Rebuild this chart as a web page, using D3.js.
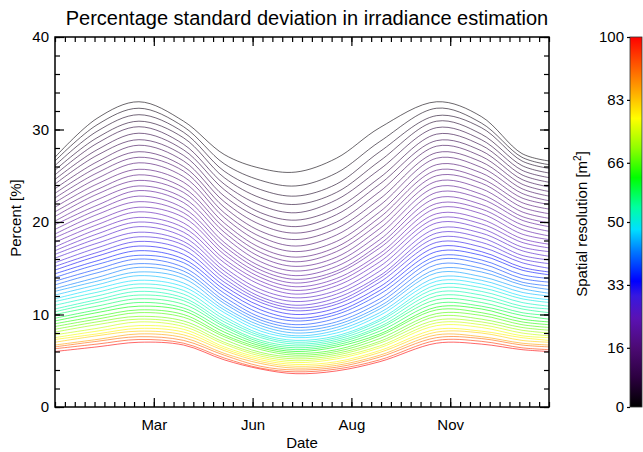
<!DOCTYPE html>
<html>
<head>
<meta charset="utf-8">
<script src="https://cdn.jsdelivr.net/npm/d3@7"></script>
<style>
  body { margin: 0; background: #fff; }
  text { font-family: "Liberation Sans", Arial, Helvetica, sans-serif; fill: #000; }
</style>
</head>
<body>
<svg id="chart" width="643" height="452"></svg>
<script>
// day of year at which each value column was read
const knotDays = [0, 31, 62, 95, 125, 152, 178, 208, 240, 282, 315, 345, 365];
const monthTicks = [73, 146, 219, 292];
const monthLabels = ["Mar", "Jun", "Aug", "Nov"];
const percentTicks = [0, 10, 20, 30, 40];
const colorbarTicks = [0, 16, 33, 50, 66, 83, 100];

// spatial resolution (m^2) of each curve, top curve first
const resolutions = [1, 2, 4, 5, 7, 8, 9, 11, 12, 14, 15,
  16, 17, 18, 19, 20, 21, 22, 23, 24, 25, 26, 27, 28, 29,
  31, 33, 35, 37, 38, 40, 42,
  44, 46, 48, 50, 52, 53, 55,
  57, 59, 62, 64, 66, 68,
  71, 74, 77, 79, 82,
  86, 91, 95, 100];

// percentage std. deviation, one row per resolution, one column per knotDay
const percent = [
  [27.0, 31.2, 33.0, 30.9, 27.3, 25.8, 25.4, 26.9, 30.2, 33.0, 31.4, 27.4, 26.6],
  [26.6, 30.5, 32.3, 30.3, 26.3, 24.5, 23.9, 25.3, 28.7, 32.3, 30.7, 27.0, 26.2],
  [26.1, 29.8, 31.6, 29.7, 25.5, 23.5, 22.8, 24.1, 27.6, 31.5, 30.2, 26.6, 25.8],
  [25.6, 29.1, 30.9, 29.1, 24.8, 22.6, 21.9, 23.2, 26.6, 30.9, 29.5, 26.1, 25.3],
  [25.1, 28.5, 30.3, 28.4, 24.1, 21.8, 21.0, 22.4, 25.7, 30.2, 28.9, 25.6, 24.8],
  [24.6, 27.8, 29.6, 27.8, 23.5, 21.0, 20.2, 21.5, 24.8, 29.5, 28.3, 25.1, 24.3],
  [24.1, 27.2, 28.9, 27.2, 22.8, 20.4, 19.5, 20.8, 24.1, 28.8, 27.7, 24.6, 23.8],
  [23.6, 26.5, 28.3, 26.6, 22.2, 19.7, 18.8, 20.0, 23.3, 28.2, 27.1, 24.1, 23.3],
  [23.1, 25.9, 27.6, 26.0, 21.6, 19.0, 18.1, 19.3, 22.5, 27.5, 26.5, 23.6, 22.8],
  [22.6, 25.3, 27.0, 25.5, 21.0, 18.4, 17.4, 18.6, 21.8, 26.9, 25.9, 23.1, 22.3],
  [22.1, 24.7, 26.4, 24.9, 20.5, 17.8, 16.8, 17.9, 21.1, 26.2, 25.3, 22.6, 21.9],
  [21.6, 24.1, 25.7, 24.3, 19.9, 17.2, 16.2, 17.3, 20.5, 25.6, 24.7, 22.1, 21.4],
  [21.1, 23.5, 25.1, 23.7, 19.4, 16.7, 15.7, 16.8, 19.9, 25.0, 24.2, 21.6, 20.9],
  [20.6, 23.0, 24.5, 23.2, 18.9, 16.2, 15.2, 16.2, 19.3, 24.4, 23.6, 21.1, 20.4],
  [20.1, 22.4, 23.9, 22.6, 18.4, 15.7, 14.7, 15.7, 18.7, 23.8, 23.0, 20.6, 19.9],
  [19.7, 21.8, 23.4, 22.1, 17.8, 15.2, 14.2, 15.2, 18.1, 23.2, 22.5, 20.2, 19.5],
  [19.2, 21.3, 22.8, 21.5, 17.4, 14.8, 13.8, 14.7, 17.6, 22.6, 21.9, 19.7, 19.0],
  [18.7, 20.8, 22.2, 21.0, 16.9, 14.4, 13.4, 14.4, 17.2, 22.0, 21.4, 19.2, 18.5],
  [18.3, 20.2, 21.6, 20.5, 16.5, 14.0, 13.0, 13.9, 16.6, 21.5, 20.9, 18.7, 18.1],
  [17.8, 19.7, 21.1, 19.9, 16.0, 13.6, 12.6, 13.5, 16.2, 20.9, 20.3, 18.2, 17.6],
  [17.3, 19.2, 20.5, 19.4, 15.6, 13.2, 12.2, 13.1, 15.7, 20.4, 19.8, 17.8, 17.2],
  [16.9, 18.7, 20.0, 18.9, 15.1, 12.7, 11.8, 12.6, 15.2, 19.9, 19.3, 17.3, 16.8],
  [16.5, 18.2, 19.5, 18.4, 14.7, 12.3, 11.4, 12.2, 14.7, 19.3, 18.8, 16.9, 16.3],
  [16.1, 17.7, 18.9, 17.9, 14.3, 11.9, 11.0, 11.8, 14.2, 18.8, 18.3, 16.4, 15.9],
  [15.6, 17.2, 18.4, 17.5, 13.9, 11.6, 10.7, 11.4, 13.9, 18.3, 17.8, 16.0, 15.5],
  [15.2, 16.7, 17.9, 17.0, 13.5, 11.3, 10.4, 11.1, 13.5, 17.8, 17.3, 15.6, 15.0],
  [14.8, 16.3, 17.4, 16.5, 13.1, 10.9, 10.0, 10.7, 13.0, 17.3, 16.8, 15.1, 14.6],
  [14.4, 15.8, 16.9, 16.0, 12.7, 10.5, 9.6, 10.3, 12.6, 16.8, 16.4, 14.8, 14.3],
  [14.0, 15.4, 16.4, 15.6, 12.3, 10.1, 9.3, 10.0, 12.2, 16.3, 15.9, 14.3, 13.9],
  [13.6, 14.9, 16.0, 15.1, 11.9, 9.7, 8.9, 9.6, 11.7, 15.9, 15.5, 13.9, 13.5],
  [13.2, 14.5, 15.5, 14.7, 11.5, 9.4, 8.6, 9.2, 11.3, 15.4, 15.0, 13.5, 13.1],
  [12.8, 14.0, 15.1, 14.3, 11.2, 9.1, 8.3, 8.9, 10.9, 14.9, 14.6, 13.2, 12.7],
  [12.5, 13.6, 14.6, 13.9, 10.8, 8.8, 8.0, 8.6, 10.6, 14.5, 14.1, 12.8, 12.3],
  [12.1, 13.2, 14.2, 13.4, 10.5, 8.5, 7.7, 8.3, 10.2, 14.0, 13.7, 12.4, 12.0],
  [11.7, 12.8, 13.7, 13.0, 10.2, 8.2, 7.5, 8.0, 9.9, 13.6, 13.3, 12.0, 11.6],
  [11.4, 12.4, 13.3, 12.6, 9.8, 7.9, 7.2, 7.7, 9.5, 13.2, 12.9, 11.7, 11.3],
  [11.0, 12.0, 12.9, 12.2, 9.5, 7.7, 7.0, 7.5, 9.3, 12.8, 12.5, 11.3, 10.9],
  [10.6, 11.6, 12.5, 11.8, 9.2, 7.5, 6.8, 7.3, 9.0, 12.4, 12.1, 10.9, 10.6],
  [10.3, 11.3, 12.1, 11.5, 8.9, 7.2, 6.6, 7.1, 8.7, 12.0, 11.7, 10.6, 10.2],
  [10.0, 10.9, 11.7, 11.1, 8.7, 7.0, 6.4, 6.9, 8.5, 11.6, 11.3, 10.2, 9.9],
  [9.6, 10.5, 11.3, 10.7, 8.4, 6.8, 6.2, 6.7, 8.2, 11.2, 10.9, 9.9, 9.5],
  [9.3, 10.2, 10.9, 10.4, 8.1, 6.6, 6.0, 6.5, 7.9, 10.8, 10.6, 9.5, 9.2],
  [9.0, 9.8, 10.5, 10.0, 7.8, 6.4, 5.8, 6.2, 7.7, 10.5, 10.2, 9.2, 8.9],
  [8.7, 9.5, 10.2, 9.7, 7.6, 6.2, 5.6, 6.0, 7.4, 10.1, 9.9, 8.9, 8.6],
  [8.4, 9.2, 9.8, 9.3, 7.3, 5.9, 5.4, 5.8, 7.1, 9.8, 9.5, 8.6, 8.3],
  [8.1, 8.9, 9.5, 9.0, 7.0, 5.7, 5.2, 5.6, 6.9, 9.4, 9.2, 8.3, 8.0],
  [7.8, 8.5, 9.2, 8.7, 6.8, 5.5, 5.0, 5.4, 6.6, 9.1, 8.9, 8.0, 7.7],
  [7.5, 8.2, 8.8, 8.4, 6.5, 5.3, 4.8, 5.2, 6.4, 8.8, 8.6, 7.7, 7.5],
  [7.3, 7.9, 8.5, 8.1, 6.3, 5.1, 4.6, 4.9, 6.1, 8.4, 8.2, 7.5, 7.2],
  [7.0, 7.7, 8.2, 7.8, 6.1, 4.9, 4.4, 4.7, 5.9, 8.1, 8.0, 7.2, 7.0],
  [6.7, 7.3, 7.9, 7.5, 5.8, 4.7, 4.2, 4.5, 5.6, 7.8, 7.6, 6.9, 6.7],
  [6.5, 7.1, 7.6, 7.2, 5.6, 4.4, 4.0, 4.3, 5.4, 7.5, 7.4, 6.7, 6.5],
  [6.3, 6.8, 7.3, 6.9, 5.3, 4.2, 3.8, 4.1, 5.1, 7.2, 7.1, 6.4, 6.2],
  [6.0, 6.5, 7.0, 6.7, 5.1, 4.1, 3.6, 3.9, 4.9, 6.9, 6.8, 6.2, 6.0]
];

// rainbow colour table (black -> purple -> blue -> cyan -> green -> yellow -> red)
const cmapPos = [0, 8, 16, 24, 30, 34, 42, 48, 54, 62, 70, 78, 86, 93, 100];
const cmapCol = ["#000000", "#2c0040", "#4c0a74", "#5a12b4", "#3818e0", "#0000ff", "#0078ff",
  "#00e0ff", "#00ffa0", "#00ff00", "#90ff00", "#ffff00", "#ffa000", "#ff5000", "#ff0000"];

const plot = {left: 55, right: 549, top: 37, bottom: 407};

const svg = d3.select("#chart");

const x = d3.scaleLinear().domain([0, 365]).range([plot.left, plot.right]);
const y = d3.scaleLinear().domain([0, 40]).range([plot.bottom, plot.top]);
const color = d3.scaleLinear().domain(cmapPos).range(cmapCol).interpolate(d3.interpolateRgb);

// curves
let line = d3.line()
    .x(function (d, i) { return x(knotDays[i]); })
    .y(function (d) { return y(d); })
    .curve(d3.curveCatmullRom.alpha(0.5));

svg.append("g").attr("class", "curves")
    .selectAll("path")
    .data(percent)
    .enter().append("path")
    .attr("d", line)
    .attr("fill", "none")
    .attr("stroke", function (d, i) { return color(resolutions[i]); })
    .attr("stroke-width", 1)
    .attr("stroke-opacity", 0.6);

// axes, IDL style: ticks on all four sides pointing inward
const minorX = d3.range(0, 365.01, 7.3);
const minorY = d3.range(0, 40.01, 2);

function styleAxis(g) {
    g.select(".domain").remove();
    g.selectAll("line").attr("stroke", "#000").attr("stroke-width", 1.2);
    g.selectAll("text").attr("font-size", 15).attr("fill", "#000");
}

svg.append("g").attr("transform", "translate(0," + plot.bottom + ")")
    .call(d3.axisBottom(x).tickValues(minorX).tickFormat("").tickSizeInner(-5).tickSizeOuter(0)).call(styleAxis);
svg.append("g").attr("transform", "translate(0," + plot.bottom + ")")
    .call(d3.axisBottom(x).tickValues(monthTicks).tickFormat(function (d, i) { return monthLabels[i]; })
        .tickSizeInner(-9).tickSizeOuter(0).tickPadding(12)).call(styleAxis);
svg.append("g").attr("transform", "translate(0," + plot.top + ")")
    .call(d3.axisTop(x).tickValues(minorX).tickFormat("").tickSizeInner(-5).tickSizeOuter(0)).call(styleAxis);
svg.append("g").attr("transform", "translate(0," + plot.top + ")")
    .call(d3.axisTop(x).tickValues(monthTicks).tickFormat("").tickSizeInner(-9).tickSizeOuter(0)).call(styleAxis);

svg.append("g").attr("transform", "translate(" + plot.left + ",0)")
    .call(d3.axisLeft(y).tickValues(minorY).tickFormat("").tickSizeInner(-5).tickSizeOuter(0)).call(styleAxis);
svg.append("g").attr("transform", "translate(" + plot.left + ",0)")
    .call(d3.axisLeft(y).tickValues(percentTicks).tickFormat(d3.format("d"))
        .tickSizeInner(-9).tickSizeOuter(0).tickPadding(6)).call(styleAxis);
svg.append("g").attr("transform", "translate(" + plot.right + ",0)")
    .call(d3.axisRight(y).tickValues(minorY).tickFormat("").tickSizeInner(-5).tickSizeOuter(0)).call(styleAxis);
svg.append("g").attr("transform", "translate(" + plot.right + ",0)")
    .call(d3.axisRight(y).tickValues(percentTicks).tickFormat("").tickSizeInner(-9).tickSizeOuter(0)).call(styleAxis);

svg.append("rect")
    .attr("x", plot.left).attr("y", plot.top)
    .attr("width", plot.right - plot.left).attr("height", plot.bottom - plot.top)
    .attr("fill", "none").attr("stroke", "#000").attr("stroke-width", 1.5);

// titles
svg.append("text")
    .attr("x", (plot.left + plot.right) / 2 + 5).attr("y", 25)
    .attr("text-anchor", "middle").attr("font-size", 20)
    .text("Percentage standard deviation in irradiance estimation");

svg.append("text")
    .attr("x", (plot.left + plot.right) / 2).attr("y", 448)
    .attr("text-anchor", "middle").attr("font-size", 15)
    .text("Date");

svg.append("text")
    .attr("transform", "translate(21,218) rotate(-90)")
    .attr("text-anchor", "middle").attr("font-size", 15)
    .text("Percent [%]");

// colour bar
const bar = {x: 630, w: 12};
const cbar = d3.scaleLinear().domain([0, 100]).range([plot.bottom, plot.top]);

let grad = svg.append("defs").append("linearGradient")
    .attr("id", "rainbow")
    .attr("x1", "0").attr("y1", "1").attr("x2", "0").attr("y2", "0");
grad.selectAll("stop")
    .data(d3.range(0, 101, 2))
    .enter().append("stop")
    .attr("offset", function (d) { return d + "%"; })
    .attr("stop-color", function (d) { return color(d); });

svg.append("rect")
    .attr("x", bar.x).attr("y", plot.top)
    .attr("width", bar.w).attr("height", plot.bottom - plot.top)
    .attr("fill", "url(#rainbow)")
    .attr("stroke", "#333").attr("stroke-width", 0.8);

svg.append("g").attr("transform", "translate(" + bar.x + ",0)")
    .call(d3.axisLeft(cbar).tickValues(colorbarTicks).tickFormat(d3.format("d"))
        .tickSizeInner(3).tickSizeOuter(0).tickPadding(3)).call(styleAxis);

let cbTitle = svg.append("text")
    .attr("transform", "translate(587,224) rotate(-90)")
    .attr("text-anchor", "middle").attr("font-size", 15);
cbTitle.append("tspan").text("Spatial resolution [m");
cbTitle.append("tspan").attr("font-size", 10).attr("dy", -6).text("2");
cbTitle.append("tspan").attr("dy", 6).text("]");
</script>
</body>
</html>
